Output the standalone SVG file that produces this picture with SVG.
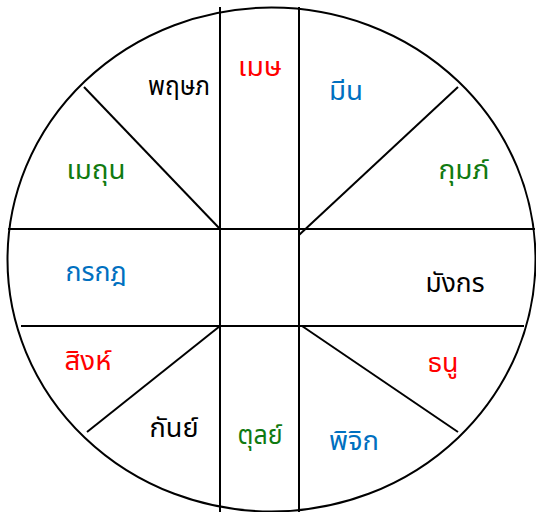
<svg xmlns="http://www.w3.org/2000/svg" width="536" height="512" viewBox="0 0 536 512">
<style>
.ln{stroke:#000;stroke-width:2;fill:none}
.t{font-family:'Noto Sans Thai','Noto Sans Thai UI','Noto Sans','DejaVu Sans',sans-serif;font-size:27px;text-anchor:middle}
.k{fill:#000}.r{fill:#ff0000}.b{fill:#0070c0}.g{fill:#107a10}
</style>
<rect width="536" height="512" fill="#fff"/>
<g id="wheel">
<ellipse class="ln" cx="271.5" cy="259.5" rx="264" ry="252"/>
<line class="ln" x1="220" y1="7" x2="220" y2="512"/>
<line class="ln" x1="299" y1="7" x2="299" y2="512"/>
<line class="ln" x1="8" y1="229" x2="535" y2="229"/>
<line class="ln" x1="21" y1="326" x2="524" y2="326"/>
<line class="ln" x1="220" y1="229" x2="84" y2="87"/>
<line class="ln" x1="299" y1="235" x2="458" y2="87"/>
<line class="ln" x1="220" y1="326" x2="87" y2="432"/>
<line class="ln" x1="302" y1="326" x2="458" y2="432"/>
</g>
<g id="labels">
<g id="mes"><text class="t r" x="260" y="76" textLength="44" lengthAdjust="spacingAndGlyphs">เมษ</text></g>
<g id="phruetsaphok"><text class="t k" x="179" y="95" textLength="62" lengthAdjust="spacingAndGlyphs">พฤษภ</text></g>
<g id="mithun"><text class="t g" x="96" y="179" textLength="59" lengthAdjust="spacingAndGlyphs">เมถุน</text></g>
<g id="kakkadok"><text class="t b" x="96" y="281" textLength="61" lengthAdjust="spacingAndGlyphs">กรกฎ</text></g>
<g id="sing"><text class="t r" x="88" y="370" textLength="47" lengthAdjust="spacingAndGlyphs">สิงห์</text></g>
<g id="kan"><text class="t k" x="174" y="437" textLength="49" lengthAdjust="spacingAndGlyphs">กันย์</text></g>
<g id="tun"><text class="t g" x="260" y="444" textLength="45" lengthAdjust="spacingAndGlyphs">ตุลย์</text></g>
<g id="phichik"><text class="t b" x="354" y="450" textLength="50" lengthAdjust="spacingAndGlyphs">พิจิก</text></g>
<g id="thanu"><text class="t r" x="443" y="372" textLength="31" lengthAdjust="spacingAndGlyphs">ธนู</text></g>
<g id="mangkon"><text class="t k" x="455" y="292" textLength="59" lengthAdjust="spacingAndGlyphs">มังกร</text></g>
<g id="kum"><text class="t g" x="464" y="179" textLength="51" lengthAdjust="spacingAndGlyphs">กุมภ์</text></g>
<g id="min"><text class="t b" x="346" y="100" textLength="34" lengthAdjust="spacingAndGlyphs">มีน</text></g>
</g>
</svg>
